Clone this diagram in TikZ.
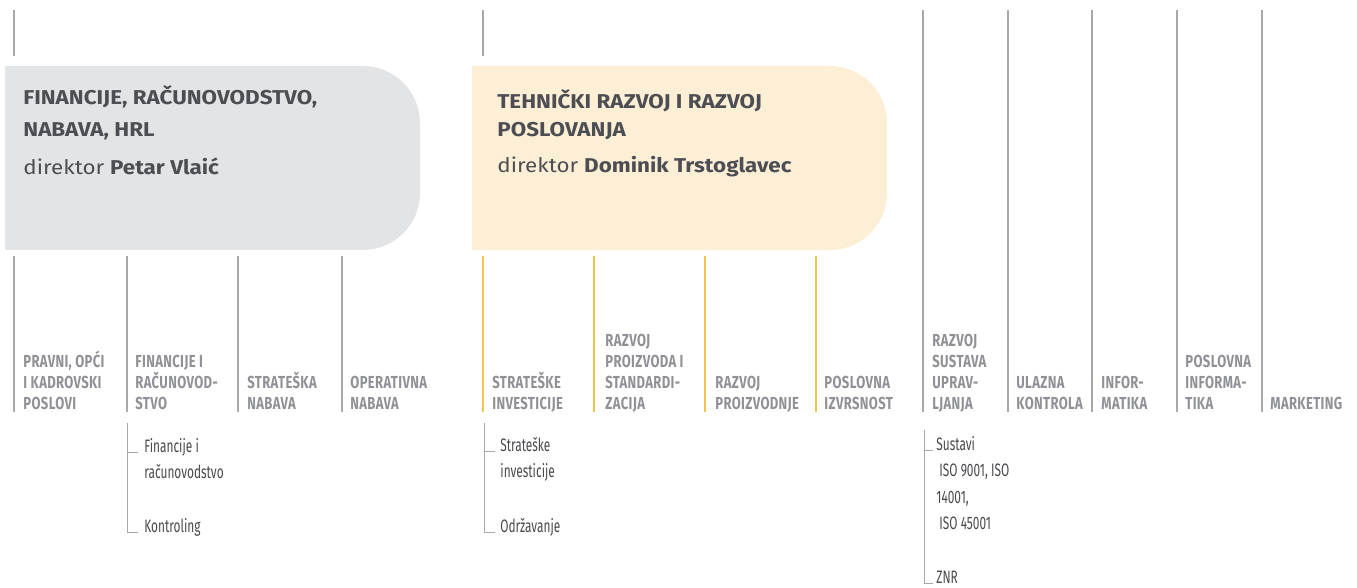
\documentclass[tikz,border=0pt]{standalone}
\usepackage{fontspec}
\setmainfont{Fira Sans}
\newfontfamily\headfont[FakeStretch=1.12]{Fira Sans}
\newfontfamily\narrowfont[FakeStretch=0.75, LetterSpace=2]{Fira Sans}
\newfontfamily\thinfont[FakeStretch=0.66]{Fira Sans}
\definecolor{boxGrey}{HTML}{E3E4E6}
\definecolor{boxGold}{HTML}{FDEED6}
\definecolor{headGrey}{HTML}{4D4E53}
\definecolor{deptGrey}{HTML}{909196}
\definecolor{unitGrey}{HTML}{48494D}
\definecolor{lineGrey}{HTML}{A8A8AA}
\definecolor{lineGold}{HTML}{F5C250}

\begin{document}
\begin{tikzpicture}[x = 0.5pt, y = -0.5pt]
	\tikzstyle{headStyle}=[anchor = base west, inner sep = 0pt, align = left, text = headGrey, font = \headfont\fontsize{10}{16}\selectfont\bfseries]
	\tikzstyle{chiefStyle}=[anchor = base west, inner sep = 0pt, text = headGrey, font = \headfont\fontsize{10}{16}\selectfont]
	\tikzstyle{deptStyle}=[anchor = south west, inner sep = 0pt, align = left, text depth = 0pt, text = deptGrey, font = \narrowfont\fontsize{8.7}{10.5}\selectfont\bfseries]
	\tikzstyle{unitStyle}=[anchor = base west, inner sep = 0pt, align = left, text = unitGrey, font = \thinfont\fontsize{9}{13.25}\selectfont]
	\tikzstyle{greyLine}=[draw = lineGrey, line width = 0.75pt]
	\tikzstyle{goldLine}=[draw = lineGold, line width = 0.75pt]
	\tikzstyle{thinLine}=[draw = lineGrey, line width = 0.5pt]
	\useasboundingbox (0,0) rectangle (1357,588);
	% boxes
	\fill[boxGrey] (5,66) -- (363,66) arc[start angle = -90, end angle = 0, radius = 57] -- (420,193) arc[start angle = 0, end angle = 90, radius = 57] -- (5,250) -- cycle;
	\fill[boxGold] (472,66) -- (830,66) arc[start angle = -90, end angle = 0, radius = 57] -- (887,193) arc[start angle = 0, end angle = 90, radius = 57] -- (472,250) -- cycle;
	\node[headStyle] (finHead) at (23,137) {FINANCIJE, RAČUNOVODSTVO,\\NABAVA, HRL};
	\node[chiefStyle] (finChief) at (23,175) {direktor \textbf{Petar Vlaić}};
	\node[headStyle, font = \headfont\fontsize{10}{14}\selectfont\bfseries] (tehHead) at (497,137) {TEHNIČKI RAZVOJ I RAZVOJ\\POSLOVANJA};
	\node[chiefStyle] (tehChief) at (497,173) {direktor \textbf{Dominik Trstoglavec}};
	% top lines
	\coordinate (finTop) at (14,10);
	\coordinate (finTopEnd) at (14,56);
	\coordinate (tehTop) at (483,10);
	\coordinate (tehTopEnd) at (483,56);
	\draw[greyLine] (finTop) -- (finTopEnd);
	\draw[greyLine] (tehTop) -- (tehTopEnd);
	% departments
	\node[deptStyle] (pravni) at (23,410) {PRAVNI, OPĆI\\I KADROVSKI\\POSLOVI};
	\node[deptStyle] (financije) at (135,410) {FINANCIJE I\\RAČUNOVOD-\\STVO};
	\node[deptStyle] (stratNabava) at (247,410) {STRATEŠKA\\NABAVA};
	\node[deptStyle] (operNabava) at (350,410) {OPERATIVNA\\NABAVA};
	\node[deptStyle] (stratInv) at (492,410) {STRATEŠKE\\INVESTICIJE};
	\node[deptStyle] (razProizvoda) at (605,410) {RAZVOJ\\PROIZVODA I\\STANDARDI-\\ZACIJA};
	\node[deptStyle] (razProizvodnje) at (715,410) {RAZVOJ\\PROIZVODNJE};
	\node[deptStyle] (izvrsnost) at (824,410) {POSLOVNA\\IZVRSNOST};
	\node[deptStyle] (sustavi) at (932,410) {RAZVOJ\\SUSTAVA\\UPRAV-\\LJANJA};
	\node[deptStyle] (ulazna) at (1016,410) {ULAZNA\\KONTROLA};
	\node[deptStyle] (informatika) at (1101,410) {INFOR-\\MATIKA};
	\node[deptStyle] (posInformatika) at (1185,410) {POSLOVNA\\INFORMA-\\TIKA};
	\node[deptStyle] (marketing) at (1270,410) {MARKETING};
	% department lines
	\coordinate (pravniTop) at (14,256);
	\coordinate (financijeTop) at (127,256);
	\coordinate (stratNabavaTop) at (238,256);
	\coordinate (operNabavaTop) at (342,256);
	\coordinate (stratInvTop) at (483,256);
	\coordinate (razProizvodaTop) at (594,256);
	\coordinate (razProizvodnjeTop) at (705,256);
	\coordinate (izvrsnostTop) at (816,256);
	\coordinate (sustaviTop) at (923,10);
	\coordinate (ulaznaTop) at (1008,10);
	\coordinate (informatikaTop) at (1092,10);
	\coordinate (posInformatikaTop) at (1177,10);
	\coordinate (marketingTop) at (1262,10);
	\draw[greyLine] (pravniTop) -- ([yshift = -1pt]pravniTop |- pravni.south);
	\draw[greyLine] (financijeTop) -- ([yshift = -1pt]financijeTop |- financije.south);
	\draw[greyLine] (stratNabavaTop) -- ([yshift = -1pt]stratNabavaTop |- stratNabava.south);
	\draw[greyLine] (operNabavaTop) -- ([yshift = -1pt]operNabavaTop |- operNabava.south);
	\draw[goldLine] (stratInvTop) -- ([yshift = -1pt]stratInvTop |- stratInv.south);
	\draw[goldLine] (razProizvodaTop) -- ([yshift = -1pt]razProizvodaTop |- razProizvoda.south);
	\draw[goldLine] (razProizvodnjeTop) -- ([yshift = -1pt]razProizvodnjeTop |- razProizvodnje.south);
	\draw[goldLine] (izvrsnostTop) -- ([yshift = -1pt]izvrsnostTop |- izvrsnost.south);
	\draw[greyLine] (sustaviTop) -- ([yshift = -1pt]sustaviTop |- sustavi.south);
	\draw[greyLine] (ulaznaTop) -- ([yshift = -1pt]ulaznaTop |- ulazna.south);
	\draw[greyLine] (informatikaTop) -- ([yshift = -1pt]informatikaTop |- informatika.south);
	\draw[greyLine] (posInformatikaTop) -- ([yshift = -1pt]posInformatikaTop |- posInformatika.south);
	\draw[greyLine] (marketingTop) -- ([yshift = -1pt]marketingTop |- marketing.south);
	% units
	\node[unitStyle] (finRac) at (144,479) {Financije i\\računovodstvo};
	\node[unitStyle] (kontroling) at (144,533) {Kontroling};
	\node[unitStyle] (invest) at (500,478) {Strateške\\investicije};
	\node[unitStyle] (odrzavanje) at (500,533) {Održavanje};
	\node[unitStyle] (iso) at (936,530) {Sustavi\\\hspace{1.5pt}ISO 9001, ISO\\14001,\\\hspace{1.5pt}ISO 45001};
	\node[unitStyle] (znr) at (936,584) {ZNR};
	\coordinate (finSub) at (127,423);
	\coordinate (invSub) at (484,423);
	\coordinate (isoSub) at (924,430);
	\draw[thinLine] (finSub) |- ([xshift = -3pt, yshift = 13pt]finRac.base west);
	\draw[thinLine] (finSub) |- ([xshift = -3pt]kontroling.base west);
	\draw[thinLine] (invSub) |- ([xshift = -2.5pt, yshift = 13pt]invest.base west);
	\draw[thinLine] (invSub) |- ([xshift = -2.5pt]odrzavanje.base west);
	\draw[thinLine] (isoSub) |- ([xshift = -1.5pt, yshift = 39.5pt]iso.base west);
	\draw[thinLine] (isoSub) |- ([xshift = -1.5pt]znr.base west);
\end{tikzpicture}
\end{document}
